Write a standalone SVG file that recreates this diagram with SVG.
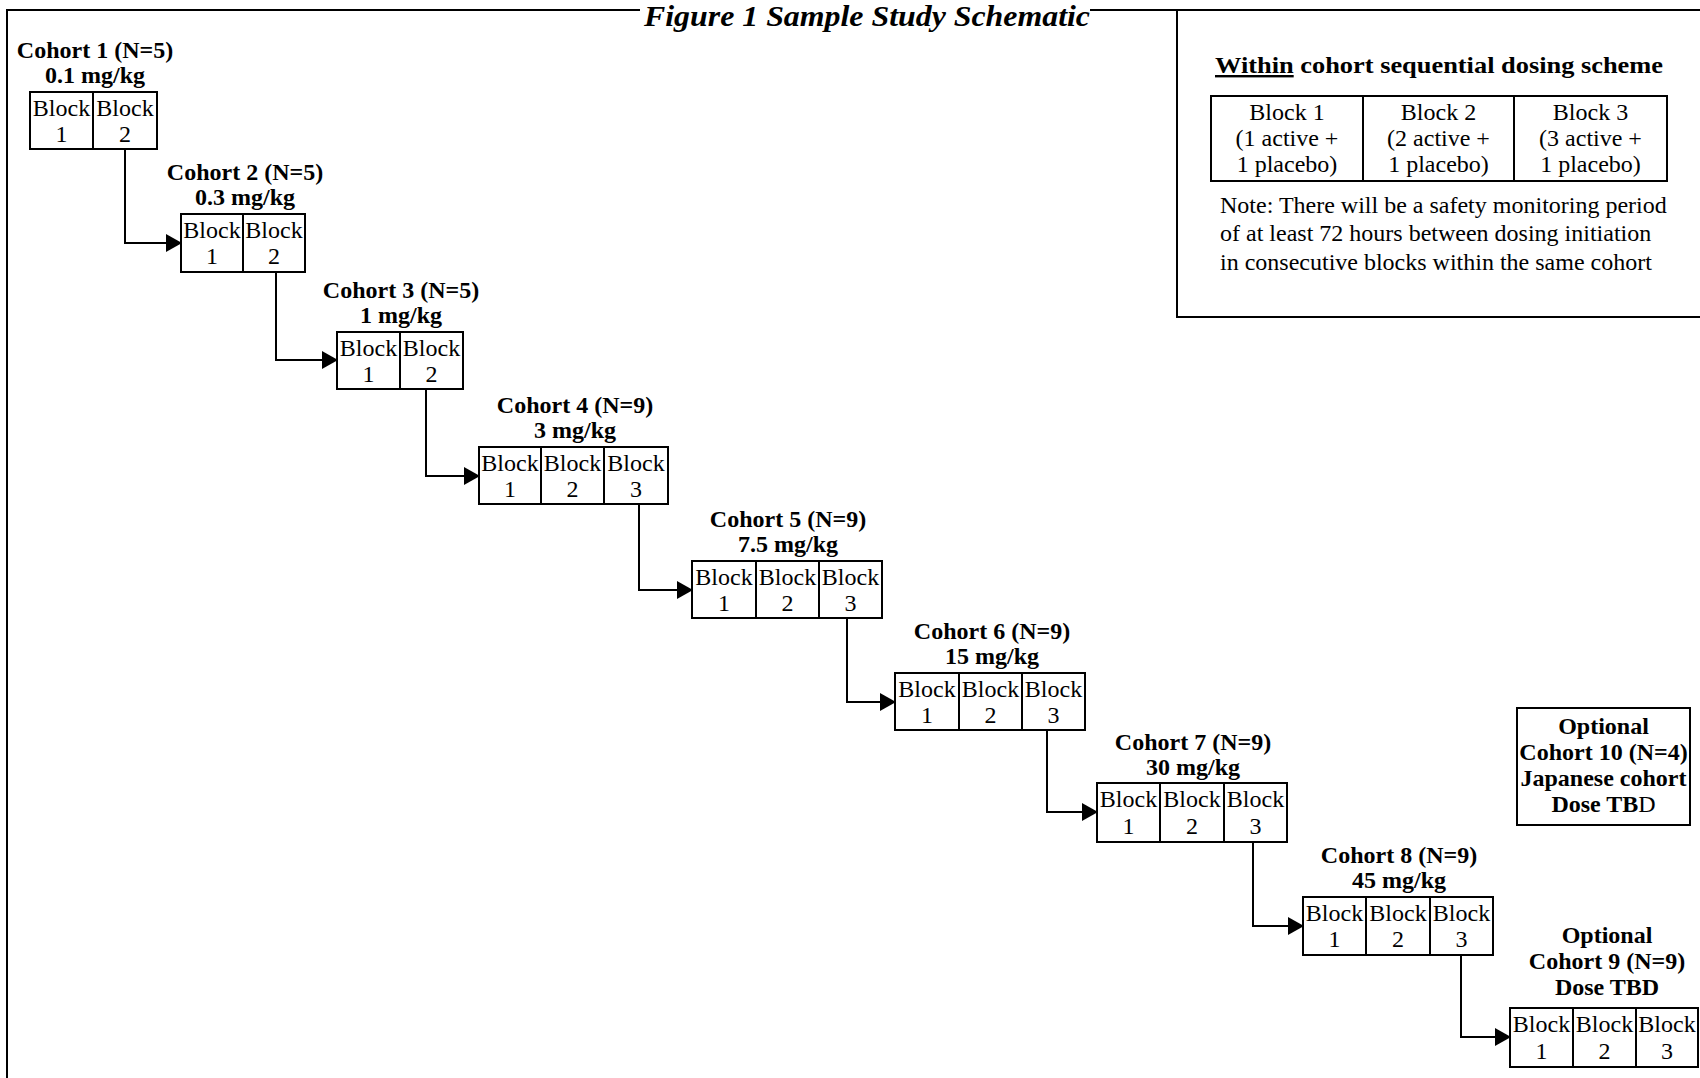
<svg xmlns="http://www.w3.org/2000/svg" width="1700" height="1078" viewBox="0 0 1700 1078">
<style>
text{font-family:"Liberation Serif","Times New Roman",serif;fill:#000}
.r{font-size:24px;text-anchor:middle}
.l{font-size:24px;text-anchor:start}
.b{font-size:24px;font-weight:bold;text-anchor:middle}
.blk{fill:#fff;stroke:#000;stroke-width:2}
.con{fill:none;stroke:#000;stroke-width:2}
.frame{fill:none;stroke:#000;stroke-width:2}
</style>
<defs>
<marker id="ah" markerWidth="16" markerHeight="18" refX="15" refY="9" orient="auto" markerUnits="userSpaceOnUse">
<path d="M0,0 L16,9 L0,18 Z" fill="#000"/>
</marker>
</defs>
<rect width="1700" height="1078" fill="#fff"/>
<g id="frame">
<path class="frame" d="M7,1078 V10 H1177"/>
</g>
<g id="title">
<rect x="640" y="0" width="450" height="30" fill="#fff"/>
<text x="644" y="26" font-size="29" font-weight="bold" font-style="italic" textLength="446" lengthAdjust="spacingAndGlyphs">Figure 1 Sample Study Schematic</text>
</g>
<g id="legend">
<rect x="1177" y="10" width="540" height="307" fill="#fff" stroke="#000" stroke-width="2"/>
<text x="1215" y="73" font-size="24" font-weight="bold" textLength="448" lengthAdjust="spacingAndGlyphs"><tspan text-decoration="underline">Within</tspan> cohort sequential dosing scheme</text>
<rect class="blk" x="1211" y="96" width="152" height="85"/>
<rect class="blk" x="1363" y="96" width="151" height="85"/>
<rect class="blk" x="1514" y="96" width="153" height="85"/>
<text class="r" x="1287" y="120">Block 1</text>
<text class="r" x="1287" y="146">(1 active +</text>
<text class="r" x="1287" y="172">1 placebo)</text>
<text class="r" x="1438.5" y="120">Block 2</text>
<text class="r" x="1438.5" y="146">(2 active +</text>
<text class="r" x="1438.5" y="172">1 placebo)</text>
<text class="r" x="1590.5" y="120">Block 3</text>
<text class="r" x="1590.5" y="146">(3 active +</text>
<text class="r" x="1590.5" y="172">1 placebo)</text>
<text class="l" x="1220" y="213">Note: There will be a safety monitoring period</text>
<text class="l" x="1220" y="241">of at least 72 hours between dosing initiation</text>
<text class="l" x="1220" y="270">in consecutive blocks within the same cohort</text>
</g>
<g id="connectors">
<path class="con" marker-end="url(#ah)" d="M125,149 V243 H181"/>
<path class="con" marker-end="url(#ah)" d="M276,272 V360 H337"/>
<path class="con" marker-end="url(#ah)" d="M426,389 V476 H479"/>
<path class="con" marker-end="url(#ah)" d="M639,504 V590 H692"/>
<path class="con" marker-end="url(#ah)" d="M847,618 V702 H895"/>
<path class="con" marker-end="url(#ah)" d="M1047,730 V812 H1097"/>
<path class="con" marker-end="url(#ah)" d="M1253,842 V926 H1303"/>
<path class="con" marker-end="url(#ah)" d="M1461,955 V1037 H1510"/>
</g>
<g id="cohort1">
<text class="b" x="95" y="58">Cohort 1 (N=5)</text>
<text class="b" x="95" y="83">0.1 mg/kg</text>
<rect class="blk" x="30" y="92" width="63" height="57"/>
<rect class="blk" x="93" y="92" width="64" height="57"/>
<text class="r" x="61.5" y="115.5">Block</text><text class="r" x="61.5" y="142">1</text>
<text class="r" x="125" y="115.5">Block</text><text class="r" x="125" y="142">2</text>
</g>
<g id="cohort2">
<text class="b" x="245" y="180">Cohort 2 (N=5)</text>
<text class="b" x="245" y="205">0.3 mg/kg</text>
<rect class="blk" x="181" y="214" width="62" height="58"/>
<rect class="blk" x="243" y="214" width="62" height="58"/>
<text class="r" x="212" y="237.5">Block</text><text class="r" x="212" y="264">1</text>
<text class="r" x="274" y="237.5">Block</text><text class="r" x="274" y="264">2</text>
</g>
<g id="cohort3">
<text class="b" x="401" y="298">Cohort 3 (N=5)</text>
<text class="b" x="401" y="323">1 mg/kg</text>
<rect class="blk" x="337" y="332" width="63" height="57"/>
<rect class="blk" x="400" y="332" width="63" height="57"/>
<text class="r" x="368.5" y="355.5">Block</text><text class="r" x="368.5" y="382">1</text>
<text class="r" x="431.5" y="355.5">Block</text><text class="r" x="431.5" y="382">2</text>
</g>
<g id="cohort4">
<text class="b" x="575" y="413">Cohort 4 (N=9)</text>
<text class="b" x="575" y="438">3 mg/kg</text>
<rect class="blk" x="479" y="447" width="62" height="57"/>
<rect class="blk" x="541" y="447" width="63" height="57"/>
<rect class="blk" x="604" y="447" width="64" height="57"/>
<text class="r" x="510" y="470.5">Block</text><text class="r" x="510" y="497">1</text>
<text class="r" x="572.5" y="470.5">Block</text><text class="r" x="572.5" y="497">2</text>
<text class="r" x="636" y="470.5">Block</text><text class="r" x="636" y="497">3</text>
</g>
<g id="cohort5">
<text class="b" x="788" y="527">Cohort 5 (N=9)</text>
<text class="b" x="788" y="552">7.5 mg/kg</text>
<rect class="blk" x="692" y="561" width="64" height="57"/>
<rect class="blk" x="756" y="561" width="63" height="57"/>
<rect class="blk" x="819" y="561" width="63" height="57"/>
<text class="r" x="724" y="584.5">Block</text><text class="r" x="724" y="611">1</text>
<text class="r" x="787.5" y="584.5">Block</text><text class="r" x="787.5" y="611">2</text>
<text class="r" x="850.5" y="584.5">Block</text><text class="r" x="850.5" y="611">3</text>
</g>
<g id="cohort6">
<text class="b" x="992" y="639">Cohort 6 (N=9)</text>
<text class="b" x="992" y="664">15 mg/kg</text>
<rect class="blk" x="895" y="673" width="64" height="57"/>
<rect class="blk" x="959" y="673" width="63" height="57"/>
<rect class="blk" x="1022" y="673" width="63" height="57"/>
<text class="r" x="927" y="696.5">Block</text><text class="r" x="927" y="723">1</text>
<text class="r" x="990.5" y="696.5">Block</text><text class="r" x="990.5" y="723">2</text>
<text class="r" x="1053.5" y="696.5">Block</text><text class="r" x="1053.5" y="723">3</text>
</g>
<g id="cohort7">
<text class="b" x="1193" y="750">Cohort 7 (N=9)</text>
<text class="b" x="1193" y="775">30 mg/kg</text>
<rect class="blk" x="1097" y="783" width="63" height="59"/>
<rect class="blk" x="1160" y="783" width="64" height="59"/>
<rect class="blk" x="1224" y="783" width="63" height="59"/>
<text class="r" x="1128.5" y="807">Block</text><text class="r" x="1128.5" y="834">1</text>
<text class="r" x="1192" y="807">Block</text><text class="r" x="1192" y="834">2</text>
<text class="r" x="1255.5" y="807">Block</text><text class="r" x="1255.5" y="834">3</text>
</g>
<g id="cohort8">
<text class="b" x="1399" y="863">Cohort 8 (N=9)</text>
<text class="b" x="1399" y="888">45 mg/kg</text>
<rect class="blk" x="1303" y="897" width="63" height="58"/>
<rect class="blk" x="1366" y="897" width="64" height="58"/>
<rect class="blk" x="1430" y="897" width="63" height="58"/>
<text class="r" x="1334.5" y="920.5">Block</text><text class="r" x="1334.5" y="947">1</text>
<text class="r" x="1398" y="920.5">Block</text><text class="r" x="1398" y="947">2</text>
<text class="r" x="1461.5" y="920.5">Block</text><text class="r" x="1461.5" y="947">3</text>
</g>
<g id="cohort9">
<text class="b" x="1607" y="943">Optional</text>
<text class="b" x="1607" y="969">Cohort 9 (N=9)</text>
<text class="b" x="1607" y="995">Dose TBD</text>
<rect class="blk" x="1510" y="1008" width="63" height="59"/>
<rect class="blk" x="1573" y="1008" width="63" height="59"/>
<rect class="blk" x="1636" y="1008" width="62" height="59"/>
<text class="r" x="1541.5" y="1032">Block</text><text class="r" x="1541.5" y="1059">1</text>
<text class="r" x="1604.5" y="1032">Block</text><text class="r" x="1604.5" y="1059">2</text>
<text class="r" x="1667" y="1032">Block</text><text class="r" x="1667" y="1059">3</text>
</g>
<g id="cohort10">
<rect class="blk" x="1517" y="708" width="173" height="117"/>
<text class="b" x="1603.5" y="734">Optional</text>
<text class="b" x="1603.5" y="760">Cohort 10 (N=4)</text>
<text class="b" x="1603.5" y="786">Japanese cohort</text>
<text class="b" x="1603.5" y="812">Dose TB<tspan font-weight="normal">D</tspan></text>
</g>
</svg>
